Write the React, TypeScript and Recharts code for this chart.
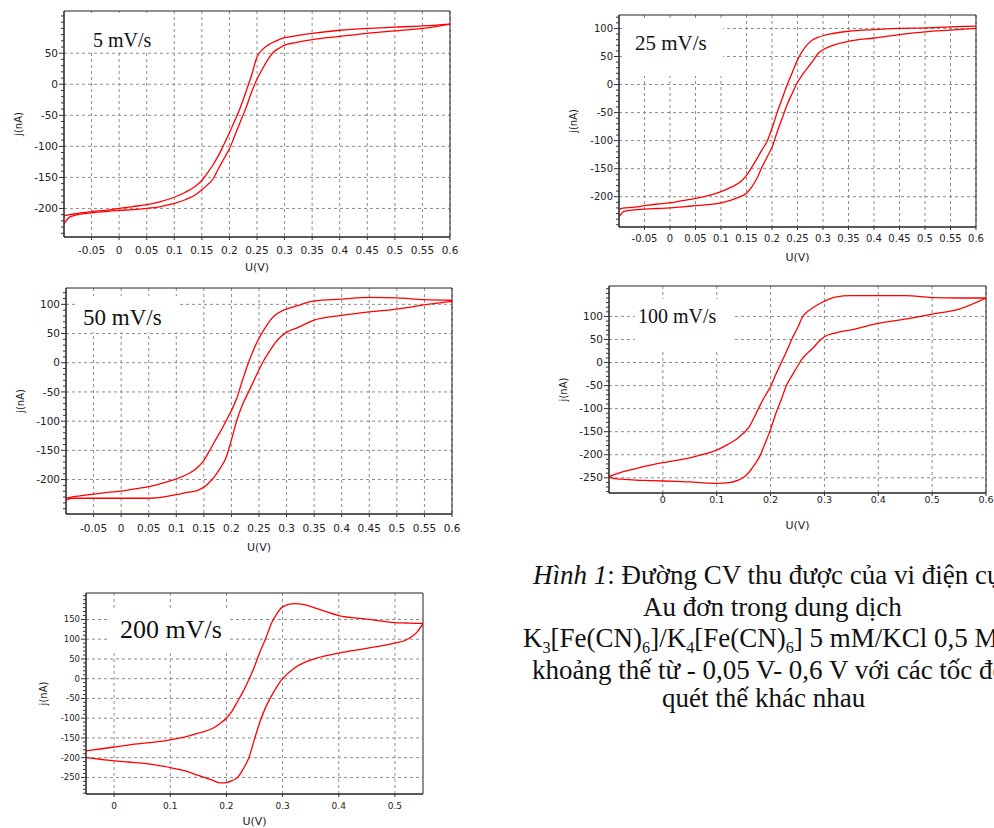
import React from 'react';
import { LineChart, Line, XAxis, YAxis, CartesianGrid, ReferenceArea, Label } from 'recharts';

// potential grid (V) shared by the 5, 25, 50 and 100 mV/s scans
const uGrid = [
  -0.1, -0.09, -0.075, -0.05, -0.025, 0, 0.025, 0.05, 0.075, 0.1, 0.12, 0.14, 0.15, 0.16, 0.17,
  0.18, 0.19, 0.2, 0.21, 0.22, 0.23, 0.24, 0.25, 0.26, 0.27, 0.28, 0.29, 0.3, 0.32, 0.35, 0.4,
  0.45, 0.5, 0.55, 0.6,
];
// potential grid (V) for the 200 mV/s scan
const uGrid200 = [
  -0.05, -0.025, 0, 0.025, 0.05, 0.075, 0.1, 0.125, 0.15, 0.175, 0.19, 0.2, 0.21, 0.22, 0.23,
  0.24, 0.25, 0.26, 0.27, 0.28, 0.29, 0.3, 0.32, 0.34, 0.36, 0.4, 0.45, 0.5, 0.52, 0.54, 0.55,
];

// current j (nA): upper branch / lower branch of each loop
const j5Up = [-212, -210, -208, -205, -203, -200, -197, -194, -189, -182, -174, -163, -155, -143, -130, -115, -97, -78, -58, -37, -12, 14, 44, 56, 63, 68, 72, 75, 78, 82, 87, 90, 92, 94, 97];
const j5Down = [-225, -214, -210, -207, -205, -203, -202, -200, -197, -192, -186, -177, -170, -162, -153, -136, -120, -104, -82, -60, -38, -13, 8, 25, 40, 52, 58, 63, 67, 72, 77, 82, 86, 90, 97];

const j25Up = [-222, -220, -219, -216, -213, -211, -207, -203, -198, -191, -183, -172, -162, -148, -133, -117, -102, -78, -50, -25, 0, 22, 44, 60, 72, 80, 84, 87, 91, 95, 98, 100, 101, 103, 104];
const j25Down = [-236, -226, -224, -222, -221, -220, -218, -216, -214, -211, -206, -199, -194, -183, -168, -148, -130, -112, -85, -60, -35, -15, 4, 18, 30, 42, 55, 62, 70, 77, 83, 89, 94, 97, 100];

const j50Up = [-232, -230, -228, -225, -222, -220, -216, -212, -206, -199, -191, -178, -167, -151, -134, -118, -100, -82, -60, -30, -2, 22, 42, 58, 72, 82, 88, 92, 98, 106, 109, 112, 111, 108, 107];
const j50Down = [-235, -232, -232, -232, -232, -232, -232, -232, -230, -226, -222, -218, -213, -205, -194, -180, -163, -132, -98, -72, -52, -32, -12, 6, 21, 35, 45, 52, 60, 73, 81, 87, 92, 99, 105];

const j100Up = [-247, -243, -237, -230, -223, -217, -212, -207, -199, -190, -178, -163, -153, -140, -118, -94, -72, -52, -25, 0, 25, 52, 75, 100, 112, 120, 127, 133, 142, 145, 145, 145, 141, 140, 140];
const j100Down = [-247, -252, -253, -255, -256, -257, -258, -259, -261, -262, -261, -255, -249, -238, -222, -203, -175, -145, -110, -80, -48, -28, -8, 10, 22, 33, 46, 56, 64, 71, 85, 94, 105, 116, 140];

const j200Up = [-183, -178, -173, -168, -164, -160, -155, -148, -138, -126, -112, -100, -82, -57, -32, -2, 31, 69, 102, 140, 165, 182, 190, 187, 178, 160, 151, 142, 141, 140, 140];
const j200Down = [-200, -204, -208, -211, -214, -219, -225, -233, -245, -257, -264, -263, -258, -250, -228, -200, -153, -108, -72, -44, -20, 0, 26, 42, 52, 65, 77, 90, 98, 119, 140];

// tick labels
const uTicksFine = [-0.05, 0, 0.05, 0.1, 0.15, 0.2, 0.25, 0.3, 0.35, 0.4, 0.45, 0.5, 0.55, 0.6];
const uTicks100 = [0, 0.1, 0.2, 0.3, 0.4, 0.5, 0.6];
const uTicks200 = [0, 0.1, 0.2, 0.3, 0.4, 0.5];
const jTicks5 = [-200, -150, -100, -50, 0, 50];
const jTicks25 = [-200, -150, -100, -50, 0, 50, 100];
const jTicks100 = [-250, -200, -150, -100, -50, 0, 50, 100];
const jTicks200 = [-250, -200, -150, -100, -50, 0, 50, 100, 150];

const rates = ['5 mV/s', '25 mV/s', '50 mV/s', '100 mV/s', '200 mV/s'];

const RED = '#ff0000';
const TICK_FONT = 'DejaVu Sans, Verdana, sans-serif';
const SERIF = '"Liberation Serif", "Times New Roman", serif';

function minorTicks(lo: number, hi: number) {
  const out: number[] = [];
  for (let v = Math.ceil(lo / 10) * 10; v <= hi; v += 10) out.push(v);
  return out;
}

function toPoints(u: number[], j: number[]) {
  return u.map((x, i) => ({ u: x, j: j[i] }));
}

interface Box { l: number; t: number; r: number; b: number }

interface PanelProps {
  rate: string;
  u: number[];
  up: number[];
  down: number[];
  xDomain: [number, number];
  yDomain: [number, number];
  xTicks: number[];
  yTicks: number[];
  plot: Box;
  yLabelX: number;
  xLabelY: number;
  tickGap: number;
  xFont: number;
  yFont: number;
  note: { x: number; cy: number; size: number; box: Box };
}

function CVPanel(p: PanelProps) {
  const plotW = p.plot.r - p.plot.l;
  const plotH = p.plot.b - p.plot.t;
  const left = p.yLabelX - 12;
  const top = p.plot.t - 6;
  const yAxisW = p.plot.l - left;
  const xAxisH = p.xLabelY + 4 - p.plot.b;
  const minors = minorTicks(p.yDomain[0], p.yDomain[1]);
  const tickSize = Math.min(3, p.tickGap);

  const renderYTick = (props: any) => {
    const { x, y, payload } = props;
    const major = p.yTicks.includes(payload.value);
    return (
      <g>
        <line x1={x - (major ? 5 : 3)} x2={x} y1={y} y2={y} stroke="#333" strokeWidth={1} />
        {major && (
          <text x={x - 6} y={y} dy="0.35em" textAnchor="end" fontSize={p.yFont} fontFamily={TICK_FONT} fill="#222">
            {payload.value}
          </text>
        )}
      </g>
    );
  };

  return (
    <>
      <div style={{ position: 'absolute', left, top }}>
        <LineChart
          width={yAxisW + plotW + 14}
          height={6 + plotH + xAxisH + 6}
          margin={{ top: 6, right: 14, bottom: 6, left: 0 }}
        >
          <CartesianGrid
            stroke="#8c8c8c"
            strokeDasharray="3 3"
            horizontalValues={p.yTicks}
            verticalValues={p.xTicks}
          />
          <XAxis
            type="number"
            dataKey="u"
            domain={p.xDomain}
            ticks={p.xTicks}
            interval={0}
            allowDataOverflow
            height={xAxisH}
            tickSize={tickSize}
            tickMargin={p.tickGap - tickSize}
            axisLine={{ stroke: '#222' }}
            tickLine={{ stroke: '#333' }}
            tick={{ fontSize: p.xFont, fontFamily: TICK_FONT, fill: '#222' }}
          >
            <Label value="U(V)" position="insideBottom" offset={0} fontSize={11} fontFamily={TICK_FONT} fill="#222" />
          </XAxis>
          <YAxis
            type="number"
            dataKey="j"
            domain={p.yDomain}
            ticks={minors}
            interval={0}
            allowDataOverflow
            width={yAxisW}
            tickSize={0}
            tickMargin={0}
            axisLine={{ stroke: '#222' }}
            tickLine={false}
            tick={renderYTick}
          >
            <Label
              value="j(nA)"
              angle={-90}
              position="insideLeft"
              offset={12}
              fontSize={10}
              fontFamily={TICK_FONT}
              fill="#222"
              style={{ textAnchor: 'middle' }}
            />
          </YAxis>
          <ReferenceArea
            x1={p.xDomain[0]}
            x2={p.xDomain[1]}
            y1={p.yDomain[0]}
            y2={p.yDomain[1]}
            fill="none"
            stroke="#222"
            strokeWidth={1}
            ifOverflow="visible"
          />
          <Line data={toPoints(p.u, p.up)} dataKey="j" type="monotone" stroke={RED} strokeWidth={1.3} dot={false} isAnimationActive={false} />
          <Line data={toPoints(p.u, p.down)} dataKey="j" type="monotone" stroke={RED} strokeWidth={1.3} dot={false} isAnimationActive={false} />
        </LineChart>
      </div>
      {/* white label box over the grid */}
      <div
        style={{
          position: 'absolute',
          left: p.note.box.l,
          top: p.note.box.t,
          width: p.note.box.r - p.note.box.l,
          height: p.note.box.b - p.note.box.t,
          background: '#fff',
        }}
      />
      <div
        style={{
          position: 'absolute',
          left: p.note.x,
          top: p.note.cy - p.note.size * 0.5,
          fontFamily: SERIF,
          fontSize: p.note.size,
          lineHeight: 1,
          whiteSpace: 'nowrap',
          color: '#111',
        }}
      >
        {p.rate}
      </div>
    </>
  );
}

const subStyle: React.CSSProperties = { fontSize: '0.6em', lineHeight: 0 };

// caption lines with the left edge and vertical centre of each line
const captionLines: { x: number; cy: number; text: React.ReactNode }[] = [
  { x: 533, cy: 575, text: <><i>Hình 1</i>: Đường CV thu được của vi điện cực</> },
  { x: 643, cy: 607, text: <>Au đơn trong dung dịch</> },
  {
    x: 523,
    cy: 638,
    text: (
      <>
        K<sub style={subStyle}>3</sub>[Fe(CN)<sub style={subStyle}>6</sub>]/K<sub style={subStyle}>4</sub>[Fe(CN)
        <sub style={subStyle}>6</sub>] 5 mM/KCl 0,5 M
      </>
    ),
  },
  { x: 532, cy: 670, text: <>khoảng thế từ - 0,05 V- 0,6 V với các tốc độ</> },
  { x: 662, cy: 698, text: <>quét thế khác nhau</> },
];

export default function App() {
  return (
    <div style={{ position: 'fixed', left: 0, top: 0, width: 994, height: 828, overflow: 'hidden', background: '#fff' }}>
      <CVPanel
        rate={rates[0]}
        u={uGrid}
        up={j5Up}
        down={j5Down}
        xDomain={[-0.1, 0.6]}
        yDomain={[-246, 118]}
        xTicks={uTicksFine}
        yTicks={jTicks5}
        plot={{ l: 64, t: 11, r: 450, b: 237 }}
        yLabelX={18}
        xLabelY={267}
        tickGap={10}
        xFont={10.5}
        yFont={10.5}
        note={{ x: 93, cy: 40, size: 20, box: { l: 90, t: 13, r: 160, b: 50 } }}
      />
      <CVPanel
        rate={rates[1]}
        u={uGrid}
        up={j25Up}
        down={j25Down}
        xDomain={[-0.1, 0.6]}
        yDomain={[-254, 124]}
        xTicks={uTicksFine}
        yTicks={jTicks25}
        plot={{ l: 619, t: 15, r: 976, b: 227 }}
        yLabelX={573}
        xLabelY={257}
        tickGap={8}
        xFont={10}
        yFont={10}
        note={{ x: 635, cy: 43, size: 21, box: { l: 622, t: 18, r: 723, b: 76 } }}
      />
      <CVPanel
        rate={rates[2]}
        u={uGrid}
        up={j50Up}
        down={j50Down}
        xDomain={[-0.1, 0.6]}
        yDomain={[-259, 128]}
        xTicks={uTicksFine}
        yTicks={jTicks25}
        plot={{ l: 66, t: 288, r: 452, b: 514 }}
        yLabelX={20}
        xLabelY={547}
        tickGap={11}
        xFont={10.5}
        yFont={10.5}
        note={{ x: 83, cy: 317, size: 23, box: { l: 75, t: 296, r: 178, b: 332 } }}
      />
      <CVPanel
        rate={rates[3]}
        u={uGrid}
        up={j100Up}
        down={j100Down}
        xDomain={[-0.1, 0.6]}
        yDomain={[-283, 166]}
        xTicks={uTicks100}
        yTicks={jTicks100}
        plot={{ l: 609, t: 286, r: 986, b: 493 }}
        yLabelX={563}
        xLabelY={525}
        tickGap={3}
        xFont={9.5}
        yFont={10.5}
        note={{ x: 638, cy: 316, size: 20, box: { l: 635, t: 299, r: 732, b: 352 } }}
      />
      <CVPanel
        rate={rates[4]}
        u={uGrid200}
        up={j200Up}
        down={j200Down}
        xDomain={[-0.05, 0.55]}
        yDomain={[-292, 217]}
        xTicks={uTicks200}
        yTicks={jTicks200}
        plot={{ l: 86, t: 593, r: 423, b: 794 }}
        yLabelX={43}
        xLabelY={821}
        tickGap={9}
        xFont={9}
        yFont={8.5}
        note={{ x: 120, cy: 630, size: 26, box: { l: 110, t: 609, r: 228, b: 652 } }}
      />
      {captionLines.map((line, i) => (
        <div
          key={i}
          style={{
            position: 'absolute',
            left: line.x,
            top: line.cy - 15.5,
            fontFamily: SERIF,
            fontSize: 27,
            lineHeight: '31px',
            whiteSpace: 'nowrap',
            color: '#111',
          }}
        >
          {line.text}
        </div>
      ))}
    </div>
  );
}
